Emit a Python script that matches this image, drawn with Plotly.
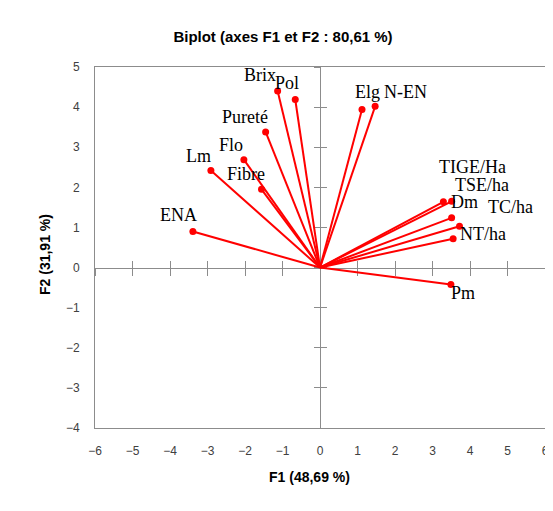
import plotly.graph_objects as go

# ---- data ----
names = ["ENA", "Lm", "Flo", "Fibre", "Pureté", "Brix", "Pol", "Elg", "N-EN",
         "TIGE/Ha", "Dm", "TSE/ha", "TC/ha", "NT/ha", "Pm"]
f1 = [-3.39, -2.91, -2.03, -1.56, -1.45, -1.13, -0.66, 1.12, 1.47,
      3.29, 3.51, 3.51, 3.72, 3.55, 3.49]
f2 = [0.90, 2.42, 2.69, 1.95, 3.38, 4.40, 4.19, 3.94, 4.02,
      1.64, 1.65, 1.24, 1.03, 0.72, -0.42]

x_ticks = list(range(-6, 7))
y_ticks = list(range(-4, 6))

# label offsets (pixels) - style only
label_dx = [-14, -12, -13, -16, -21, -18, -8, 5, 30, 29, 13, 30, 51, 30, 12]
label_dy = [16, 14, 15, 15, 15, 16, 16, 18, 14, 35, -1, 33, 19, 5, -9]

RED = "#FF0000"
GRAY = "#8C8C8C"

# page has an 8px body margin: figure is sized/offset to compensate
W, H = 545, 495
ML, MR, MT, MB = 87, 8, 59, 75
PW, PH = W - ML - MR, H - MT - MB

# vectors from origin
lx, ly = [], []
for a, b in zip(f1, f2):
    lx += [0, a, None]
    ly += [0, b, None]

fig = go.Figure()
fig.add_trace(go.Scatter(x=lx, y=ly, mode="lines",
                         line=dict(color=RED, width=2), hoverinfo="skip",
                         showlegend=False))
fig.add_trace(go.Scatter(x=f1, y=f2, mode="markers", text=names,
                         marker=dict(color=RED, size=7), showlegend=False))
# dummy traces for the cross-tick zero axes
for xa, ya in (("x2", "y2"), ("x3", "y3")):
    fig.add_trace(go.Scatter(x=[None], y=[None], xaxis=xa, yaxis=ya,
                             showlegend=False, hoverinfo="skip"))

for n, a, b, dx, dy in zip(names, f1, f2, label_dx, label_dy):
    fig.add_annotation(x=a, y=b, xref="x", yref="y", text=n, showarrow=False,
                       xshift=dx, yshift=dy,
                       font=dict(family="Liberation Serif", size=18, color="#000000"))

tickfont = dict(family="Liberation Sans", size=12, color="#404040")

fig.update_layout(
    width=W, height=H,
    margin=dict(l=ML, r=MR, t=MT, b=MB, autoexpand=False),
    paper_bgcolor="white", plot_bgcolor="white",
    title=dict(text="<b>Biplot (axes F1 et F2 : 80,61 %)</b>",
               x=275 / W, xanchor="center", y=1 - 29 / H, yanchor="middle",
               font=dict(family="Liberation Sans", size=15, color="#000000")),
    xaxis=dict(range=[-6, 6], tickvals=x_ticks, showgrid=False, zeroline=False,
               showline=True, mirror=True, linecolor=GRAY, linewidth=1,
               ticks="", ticklabelstandoff=12, tickfont=tickfont, automargin=False,
               ticklabeloverflow="allow"),
    yaxis=dict(range=[-4, 5], tickvals=y_ticks, showgrid=False, zeroline=False,
               showline=True, mirror=True, linecolor=GRAY, linewidth=1,
               ticks="", ticklabelstandoff=12, tickfont=tickfont, automargin=False,
               ticklabeloverflow="allow"),
    xaxis2=dict(overlaying="x", anchor="free", position=4 / 9, range=[-6, 6],
                tickvals=x_ticks, ticks="outside", ticklen=7, tickcolor=GRAY,
                showticklabels=False, showgrid=False, zeroline=False,
                showline=True, linecolor=GRAY, layer="below traces"),
    xaxis3=dict(overlaying="x", anchor="free", position=4 / 9, range=[-6, 6],
                tickvals=x_ticks, ticks="inside", ticklen=7, tickcolor=GRAY,
                showticklabels=False, showgrid=False, zeroline=False,
                showline=True, linecolor=GRAY, layer="below traces"),
    yaxis2=dict(overlaying="y", anchor="free", position=0.5, range=[-4, 5],
                tickvals=y_ticks, ticks="outside", ticklen=6, tickcolor=GRAY,
                showticklabels=False, showgrid=False, zeroline=False,
                showline=True, linecolor=GRAY, layer="below traces"),
    yaxis3=dict(overlaying="y", anchor="free", position=0.5, range=[-4, 5],
                tickvals=y_ticks, ticks="inside", ticklen=6, tickcolor=GRAY,
                showticklabels=False, showgrid=False, zeroline=False,
                showline=True, linecolor=GRAY, layer="below traces"),
)

fig.add_annotation(text="<b>F1 (48,69 %)</b>", xref="paper", yref="paper",
                   x=(301 - ML) / PW, y=-(469 - (MT + PH)) / PH, showarrow=False,
                   xanchor="center", yanchor="middle",
                   font=dict(family="Liberation Sans", size=14, color="#000000"))
fig.add_annotation(text="<b>F2 (31,91 %)</b>", xref="paper", yref="paper",
                   x=-(ML - 37) / PW, y=((MT + PH) - 247) / PH, showarrow=False,
                   textangle=-90, xanchor="center", yanchor="middle",
                   font=dict(family="Liberation Sans", size=14, color="#000000"))

fig.write_html("out.html")
